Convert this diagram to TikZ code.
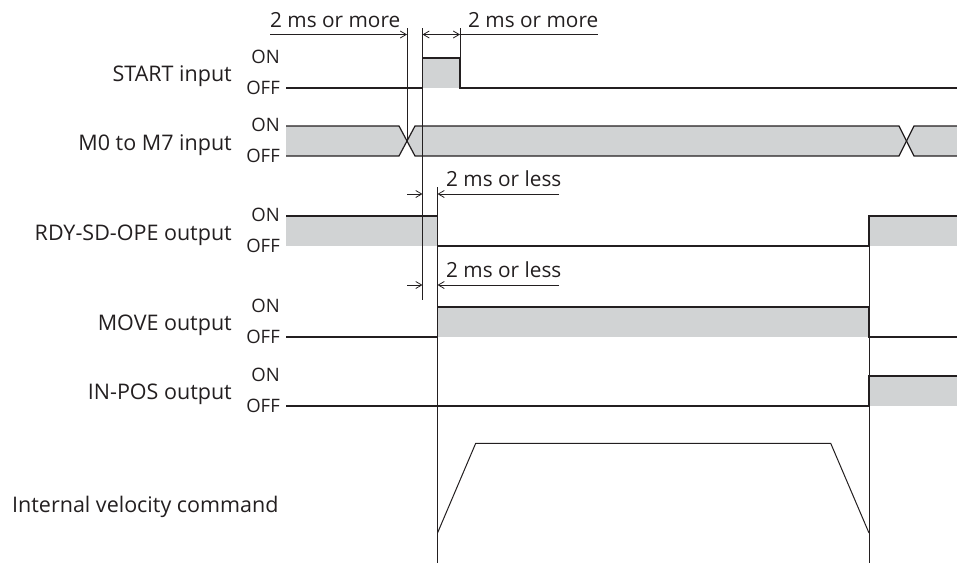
\documentclass[tikz,border=0pt]{standalone}
\usepackage{fontspec}
\setmainfont{Open Sans}
\usetikzlibrary{arrows.meta}
\definecolor{ln}{HTML}{231F20}
\definecolor{fl}{HTML}{D1D3D4}
\begin{document}
\begin{tikzpicture}[x=1pt,y=-1pt,
  sig/.style={draw=ln, line width=1.2pt, line join=miter},
  vel/.style={draw=ln, line width=1pt, line join=miter},
  dim/.style={draw=ln, line width=0.8pt},
  tick/.style={draw=ln, line width=0.9pt},
  lbl/.style={font=\fontsize{21.5}{24}\selectfont, text=ln, anchor=base east, inner sep=0},
  onoff/.style={font=\fontsize{18.5}{20}\selectfont, text=ln, anchor=base east, inner sep=0},
  dimtxt/.style={font=\fontsize{20.8}{24}\selectfont, text=ln, anchor=base west, inner sep=0},
  barb/.tip={Straight Barb[length=6pt,width=7pt]}
]
\useasboundingbox (0,0) rectangle (957,563);

% ---- labels ----
\node[lbl] (lstart) at (232,81.5) {START input};
\node[lbl] (lm) at (232,150) {M0 to M7 input};
\node[lbl] (lrdy) at (232,240) {RDY-SD-OPE output};
\node[lbl] (lmove) at (232,330.5) {MOVE output};
\node[lbl] (lin) at (232,399.5) {IN-POS output};
\node[lbl, anchor=base west] (lvel) at (12,512) {Internal velocity command};

\foreach \n/\on/\off in {s/58/88, m/126/156, r/216/246, v/307/337, i/376/406}{
  \node[onoff] (on\n) at (280,\on+5) {ON};
  \node[onoff] (off\n) at (280,\off+6) {OFF};
}

% ---- START ----
\fill[fl] (422.5,58) rectangle (460,88);
\draw[sig] (286,88) -- (422.5,88) -- (422.5,58) -- (460,58) -- (460,88) -- (957,88);

% ---- M0 to M7 ----
\fill[fl] (286,126) -- (399,126) -- (407,141) -- (399,156) -- (286,156) -- cycle;
\fill[fl] (415,126) -- (899,126) -- (906.5,141) -- (899,156) -- (415,156) -- (407,141) -- cycle;
\fill[fl] (914,126) -- (957,126) -- (957,156) -- (914,156) -- (906.5,141) -- cycle;
\draw[sig] (286,126) -- (399,126) -- (415,156) -- (899,156) -- (914,126) -- (957,126);
\draw[sig] (286,156) -- (399,156) -- (415,126) -- (899,126) -- (914,156) -- (957,156);

% ---- RDY ----
\fill[fl] (286,216) rectangle (437.5,246);
\fill[fl] (869,216) rectangle (957,246);
\draw[sig] (286,216) -- (437.5,216) -- (437.5,246) -- (869,246) -- (869,216) -- (957,216);

% ---- MOVE ----
\fill[fl] (437.5,307) rectangle (869,337);
\draw[sig] (286,337) -- (437.5,337) -- (437.5,307) -- (869,307) -- (869,337) -- (957,337);

% ---- IN-POS ----
\fill[fl] (869,376) rectangle (957,406);
\draw[sig] (286,406) -- (869,406) -- (869,376) -- (957,376);

% ---- velocity ----
\draw[vel] (437.5,533) -- (475.7,443.3) -- (830.7,443.3) -- (869,533);

% ---- timing verticals ----
\coordinate (a1) at (407,28);   \coordinate (a2) at (407,141);
\coordinate (b1) at (422.5,28); \coordinate (b2) at (422.5,300);
\coordinate (c1) at (460,28);   \coordinate (c2) at (460,58);
\coordinate (d1) at (437.5,187);\coordinate (d2) at (437.5,563);
\coordinate (e1) at (869,216);  \coordinate (e2) at (869,563);
\draw[tick] (a1) -- (a2);
\draw[tick] (b1) -- (b2);
\draw[tick] (c1) -- (c2);
\draw[tick] (d1) -- (d2);
\draw[tick] (e1) -- (e2);

% ---- dimensions ----
\coordinate (m1s) at (270,34.5); \coordinate (m1e) at (407,34.5);
\coordinate (m2s) at (422.5,34.5); \coordinate (m2e) at (460,34.5); \coordinate (m2x) at (598,34.5);
\draw[dim,-barb] (m1s) -- (m1e);
\draw[dim,barb-barb] (m2s) -- (m2e);
\draw[dim] (m2e) -- (m2x);
\node[dimtxt] (t1) at (270,27) {2 ms or more};
\node[dimtxt] (t2) at (468,27) {2 ms or more};

\foreach \yy/\nm in {194/p, 285/q}{
  \coordinate (\nm1) at (407,\yy); \coordinate (\nm2) at (422.5,\yy);
  \coordinate (\nm3) at (437.5,\yy); \coordinate (\nm4) at (559,\yy);
  \draw[dim,-barb] (\nm1) -- (\nm2);
  \draw[dim,-barb] (\nm4) -- (\nm3);
  \node[dimtxt] (t\nm) at (446,\yy-8) {2 ms or less};
}
\end{tikzpicture}
\end{document}
